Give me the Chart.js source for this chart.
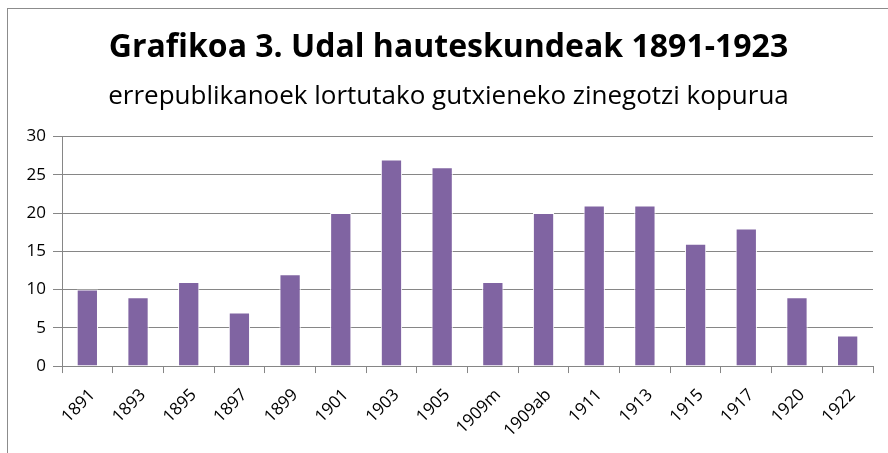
<!DOCTYPE html>
<html>
<head>
<meta charset="utf-8">
<script src="https://cdn.jsdelivr.net/npm/chart.js@4/dist/chart.umd.min.js"></script>
<style>
  html, body { margin: 0; padding: 0; background: #fff; }
  #wrap { position: relative; width: 888px; height: 453px; overflow: hidden; }
  #frame { position: absolute; left: 7px; top: 8px; width: 900px; height: 460px; border: 1px solid #8c8c8c; box-sizing: border-box; }
  canvas { position: absolute; left: 0; top: 0; }
</style>
</head>
<body>
<div id="wrap">
  <div id="frame"></div>
  <canvas id="chart" width="888" height="453"></canvas>
</div>
<script>
// Datuak
const years = ['1891', '1893', '1895', '1897', '1899', '1901', '1903', '1905', '1909m', '1909ab', '1911', '1913', '1915', '1917', '1920', '1922'];
const councillors = [10, 9, 11, 7, 12, 20, 27, 26, 11, 20, 21, 21, 16, 18, 9, 4];
const titleText = 'Grafikoa 3. Udal hauteskundeak 1891-1923';
const subtitleText = 'errepublikanoek lortutako gutxieneko zinegotzi kopurua';

const ctx = document.getElementById('chart').getContext('2d');

new Chart(ctx, {
    type: 'bar',
    data: {
        labels: years,
        datasets: [{
            data: councillors,
            backgroundColor: '#8064A2',
            borderColor: '#ffffff',
            borderWidth: { left: 1, right: 1, top: 1, bottom: 0 },
            barPercentage: 0.42,
            categoryPercentage: 1
        }]
    },
    options: {
        responsive: false,
        animation: false,
        layout: { padding: { left: 24, right: 15, top: 29, bottom: 0 } },
        plugins: {
            legend: { display: false },
            tooltip: { enabled: false },
            title: {
                display: true,
                text: titleText,
                color: '#000',
                font: { family: 'Open Sans', size: 32, weight: 'bold' },
                padding: { top: 0, bottom: 14 }
            },
            subtitle: {
                display: true,
                text: subtitleText,
                color: '#000',
                font: { family: 'Open Sans', size: 26 },
                padding: { top: 0, bottom: 24 }
            }
        },
        scales: {
            x: {
                grid: { display: true, drawOnChartArea: false, offset: true, color: '#868686', tickLength: 7 },
                border: { color: '#868686' },
                ticks: { color: '#000', font: { family: 'Open Sans', size: 17 }, maxRotation: 45, minRotation: 45, padding: 12, labelOffset: 5 }
            },
            y: {
                min: 0,
                max: 30,
                afterFit: (scale) => { scale.width = 38; },
                ticks: { stepSize: 5, color: '#000', font: { family: 'Open Sans', size: 17 }, padding: 7 },
                grid: { color: '#868686', tickLength: 9 },
                border: { color: '#868686' }
            }
        }
    }
});
</script>
</body>
</html>
